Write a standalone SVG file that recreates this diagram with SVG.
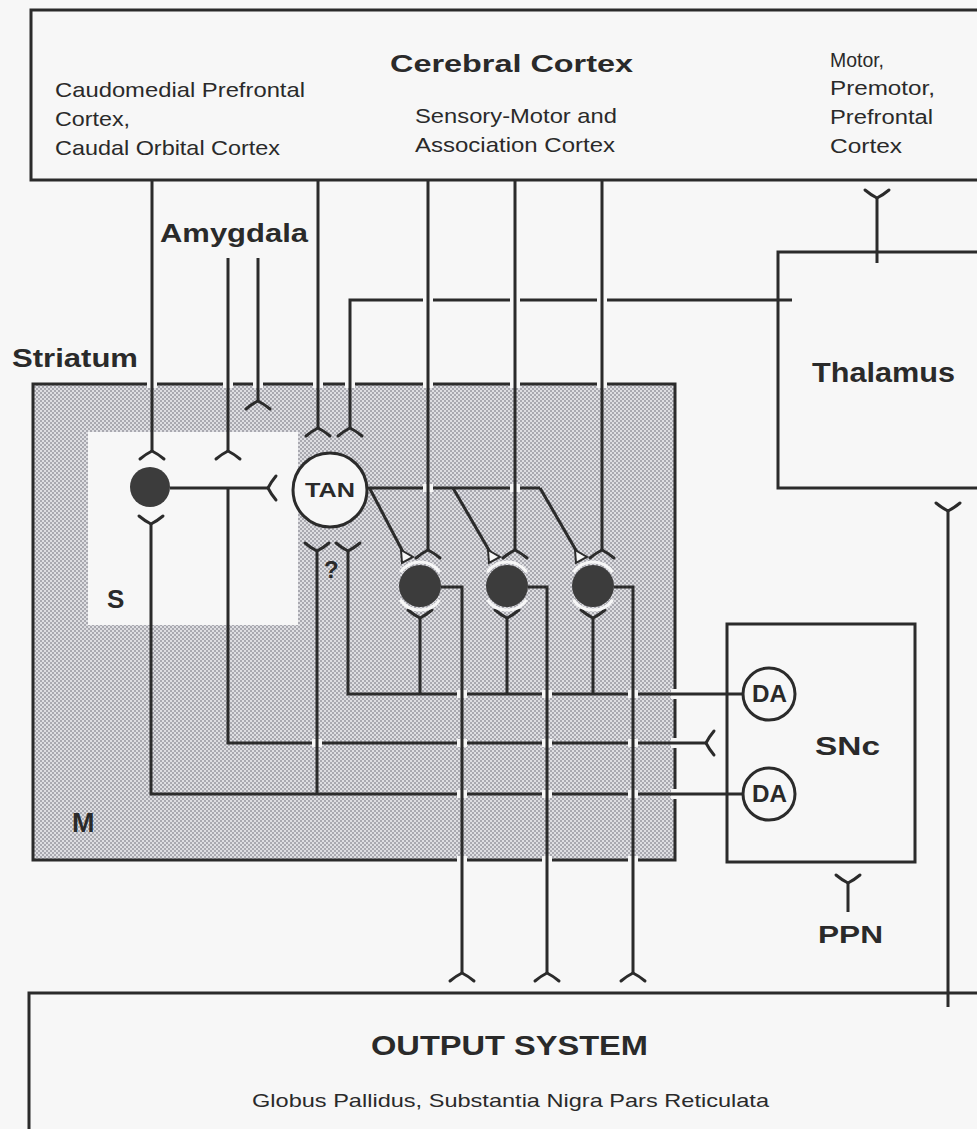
<svg xmlns="http://www.w3.org/2000/svg" xmlns:xlink="http://www.w3.org/1999/xlink" width="977" height="1129" viewBox="0 0 977 1129">
<style>
.ln{stroke:#2b2b2b;stroke-width:3;fill:none}
.bx{stroke:#2b2b2b;stroke-width:3;fill:none}
.syn{stroke:#2b2b2b;stroke-width:3;fill:none;stroke-linecap:round;stroke-linejoin:round}
.t{font-family:"Liberation Sans",Arial,Helvetica,sans-serif;fill:#2a2a2a}
.b{font-weight:bold}
.gap{fill:#f7f7f7}
.cell{fill:#3c3c3c}
.halo{stroke:#f7f7f7;stroke-width:3;fill:none}
.term{fill:#f7f7f7;stroke:#2b2b2b;stroke-width:2}
</style>
<defs>
<path id="fork" d="M-12,8 Q-6,3 0,0 Q6,3 12,8"/>
<pattern id="ht" width="4" height="4" patternUnits="userSpaceOnUse">
<rect width="4" height="4" fill="#dedee2"/>
<rect x="0" y="0" width="2" height="2" fill="#a9a9b0"/>
<rect x="2" y="2" width="2" height="2" fill="#a9a9b0"/>
</pattern>
</defs>
<rect width="977" height="1129" fill="#f7f7f7"/>

<g id="cortex">
<rect class="bx" x="31" y="10" width="970" height="170"/>
<text class="t b" x="390" y="72" font-size="24" textLength="243" lengthAdjust="spacingAndGlyphs">Cerebral Cortex</text>
<text class="t" x="55" y="97" font-size="21" textLength="250" lengthAdjust="spacingAndGlyphs">Caudomedial Prefrontal</text>
<text class="t" x="55" y="126" font-size="21" textLength="75" lengthAdjust="spacingAndGlyphs">Cortex,</text>
<text class="t" x="55" y="155" font-size="21" textLength="225" lengthAdjust="spacingAndGlyphs">Caudal Orbital Cortex</text>
<text class="t" x="415" y="123" font-size="21" textLength="202" lengthAdjust="spacingAndGlyphs">Sensory-Motor and</text>
<text class="t" x="415" y="152" font-size="21" textLength="200" lengthAdjust="spacingAndGlyphs">Association Cortex</text>
<text class="t" x="830" y="67" font-size="20" textLength="54" lengthAdjust="spacingAndGlyphs">Motor,</text>
<text class="t" x="830" y="95" font-size="20" textLength="105" lengthAdjust="spacingAndGlyphs">Premotor,</text>
<text class="t" x="830" y="124" font-size="20" textLength="103" lengthAdjust="spacingAndGlyphs">Prefrontal</text>
<text class="t" x="830" y="153" font-size="20" textLength="72" lengthAdjust="spacingAndGlyphs">Cortex</text>
</g>

<g id="amygdala">
<text class="t b" x="160" y="242" font-size="26" textLength="148" lengthAdjust="spacingAndGlyphs">Amygdala</text>
</g>

<g id="thalamus">
<rect class="bx" x="778" y="252" width="220" height="236"/>
<text class="t b" x="812" y="382" font-size="27" textLength="143" lengthAdjust="spacingAndGlyphs">Thalamus</text>
</g>

<g id="striatum">
<rect x="33" y="384" width="642" height="476" fill="url(#ht)"/>
<rect x="88" y="432" width="210" height="193" fill="#f7f7f7"/>
<path class="bx" d="M33,384 H675 V860 H33 Z"/>
<text class="t b" x="12" y="367" font-size="26" textLength="126" lengthAdjust="spacingAndGlyphs">Striatum</text>
<text class="t b" x="107" y="608" font-size="26">S</text>
<text class="t b" x="72" y="832" font-size="27">M</text>
<text class="t b" x="324" y="578" font-size="24">?</text>
</g>

<g id="snc">
<rect class="bx" x="727" y="624" width="188" height="238"/>
<text class="t b" x="815" y="755" font-size="26" textLength="65" lengthAdjust="spacingAndGlyphs">SNc</text>
</g>

<g id="ppn">
<text class="t b" x="818" y="943" font-size="23" textLength="65" lengthAdjust="spacingAndGlyphs">PPN</text>
</g>

<g id="output">
<rect class="bx" x="29" y="993" width="970" height="200"/>
<text class="t b" x="371" y="1055" font-size="27" textLength="277" lengthAdjust="spacingAndGlyphs">OUTPUT SYSTEM</text>
<text class="t" x="252" y="1107" font-size="18.5" textLength="517" lengthAdjust="spacingAndGlyphs">Globus Pallidus, Substantia Nigra Pars Reticulata</text>
</g>

<g id="connectors">
<g class="gap">
<rect x="147" y="380" width="10" height="8"/>
<rect x="223" y="380" width="10" height="8"/>
<rect x="253" y="380" width="10" height="8"/>
<rect x="313" y="380" width="10" height="8"/>
<rect x="345" y="380" width="10" height="8"/>
<rect x="423" y="380" width="10" height="8"/>
<rect x="510" y="380" width="10" height="8"/>
<rect x="597" y="380" width="10" height="8"/>
<rect x="457" y="856" width="10" height="8"/>
<rect x="542" y="856" width="10" height="8"/>
<rect x="628" y="856" width="10" height="8"/>
<rect x="671" y="689" width="8" height="10"/>
<rect x="671" y="738" width="8" height="10"/>
<rect x="671" y="789" width="8" height="10"/>
</g>
<path class="ln" d="M792,300 H350 V428"/>
<path class="ln" d="M367,488 H540"/>
<path class="ln" d="M743,694 H348 V551"/>
<path class="ln" d="M228,488 V743 H706"/>
<path class="ln" d="M743,794 H151 V524"/>
<path class="ln" d="M170,488 H268"/>
<g class="gap">
<rect x="423" y="296" width="10" height="8"/>
<rect x="510" y="296" width="10" height="8"/>
<rect x="597" y="296" width="10" height="8"/>
<rect x="423" y="484" width="10" height="8"/>
<rect x="510" y="484" width="10" height="8"/>
<rect x="457" y="690" width="10" height="8"/>
<rect x="542" y="690" width="10" height="8"/>
<rect x="628" y="690" width="10" height="8"/>
<rect x="312" y="739" width="10" height="8"/>
<rect x="457" y="739" width="10" height="8"/>
<rect x="542" y="739" width="10" height="8"/>
<rect x="628" y="739" width="10" height="8"/>
<rect x="457" y="790" width="10" height="8"/>
<rect x="542" y="790" width="10" height="8"/>
<rect x="628" y="790" width="10" height="8"/>
</g>
<path class="ln" d="M152,180 V451"/>
<path class="ln" d="M318,180 V428"/>
<path class="ln" d="M428,180 V550"/>
<path class="ln" d="M515,180 V550"/>
<path class="ln" d="M602,180 V550"/>
<path class="ln" d="M228,258 V451"/>
<path class="ln" d="M258,258 V401"/>
<path class="ln" d="M877,263 V198"/>
<path class="ln" d="M948,1007 V511"/>
<path class="ln" d="M848,912 V883"/>
<path class="ln" d="M317,794 V551"/>
<path class="ln" d="M370,489 L403,552"/>
<path class="ln" d="M453,488 L490,552"/>
<path class="ln" d="M540,488 L577,552"/>
<path class="ln" d="M420,618 V694"/>
<path class="ln" d="M507,618 V694"/>
<path class="ln" d="M593,618 V694"/>
<path class="ln" d="M441,587 H462 V973"/>
<path class="ln" d="M528,587 H547 V973"/>
<path class="ln" d="M614,587 H633 V973"/>
<g class="syn">
<use xlink:href="#fork" transform="translate(152,451)"/>
<use xlink:href="#fork" transform="translate(228,451)"/>
<use xlink:href="#fork" transform="translate(258,401)"/>
<use xlink:href="#fork" transform="translate(318,428)"/>
<use xlink:href="#fork" transform="translate(350,428)"/>
<use xlink:href="#fork" transform="translate(151,524) rotate(180)"/>
<use xlink:href="#fork" transform="translate(268,488) rotate(-90)"/>
<use xlink:href="#fork" transform="translate(317,551) rotate(180)"/>
<use xlink:href="#fork" transform="translate(348,551) rotate(180)"/>
<use xlink:href="#fork" transform="translate(428,550)"/>
<use xlink:href="#fork" transform="translate(515,550)"/>
<use xlink:href="#fork" transform="translate(602,550)"/>
<use xlink:href="#fork" transform="translate(420,618) rotate(180)"/>
<use xlink:href="#fork" transform="translate(507,618) rotate(180)"/>
<use xlink:href="#fork" transform="translate(593,618) rotate(180)"/>
<use xlink:href="#fork" transform="translate(706,743) rotate(-90)"/>
<use xlink:href="#fork" transform="translate(462,973)"/>
<use xlink:href="#fork" transform="translate(547,973)"/>
<use xlink:href="#fork" transform="translate(633,973)"/>
<use xlink:href="#fork" transform="translate(877,198) rotate(180)"/>
<use xlink:href="#fork" transform="translate(948,511) rotate(180)"/>
<use xlink:href="#fork" transform="translate(848,883) rotate(180)"/>
</g>
<polygon class="term" points="401,550 402,563 413,557"/>
<polygon class="term" points="488,550 489,563 500,557"/>
<polygon class="term" points="575,550 576,563 587,557"/>
</g>

<g id="neuron-s">
<circle class="cell" cx="150" cy="487" r="20"/>
</g>

<g id="tan">
<circle cx="330" cy="490" r="37" fill="#f7f7f7" stroke="#2b2b2b" stroke-width="3"/>
<text class="t b" x="305" y="497" font-size="21" textLength="50" lengthAdjust="spacingAndGlyphs">TAN</text>
</g>

<g id="neuron-1">
<path class="halo" d="M400.3,572.2 A24,24 0 0 1 439.7,572.2"/>
<path class="halo" d="M439.7,599.8 A24,24 0 0 1 400.3,599.8"/>
<circle class="cell" cx="420" cy="586" r="21"/>
</g>
<g id="neuron-2">
<path class="halo" d="M487.3,572.2 A24,24 0 0 1 526.7,572.2"/>
<path class="halo" d="M526.7,599.8 A24,24 0 0 1 487.3,599.8"/>
<circle class="cell" cx="507" cy="586" r="21"/>
</g>
<g id="neuron-3">
<path class="halo" d="M573.3,572.2 A24,24 0 0 1 612.7,572.2"/>
<path class="halo" d="M612.7,599.8 A24,24 0 0 1 573.3,599.8"/>
<circle class="cell" cx="593" cy="586" r="21"/>
</g>

<g id="da-1">
<circle cx="769" cy="694" r="26" fill="#f7f7f7" stroke="#2b2b2b" stroke-width="3"/>
<text class="t b" x="752" y="702" font-size="23" textLength="35" lengthAdjust="spacingAndGlyphs">DA</text>
</g>
<g id="da-2">
<circle cx="769" cy="794" r="26" fill="#f7f7f7" stroke="#2b2b2b" stroke-width="3"/>
<text class="t b" x="752" y="802" font-size="23" textLength="35" lengthAdjust="spacingAndGlyphs">DA</text>
</g>
</svg>
